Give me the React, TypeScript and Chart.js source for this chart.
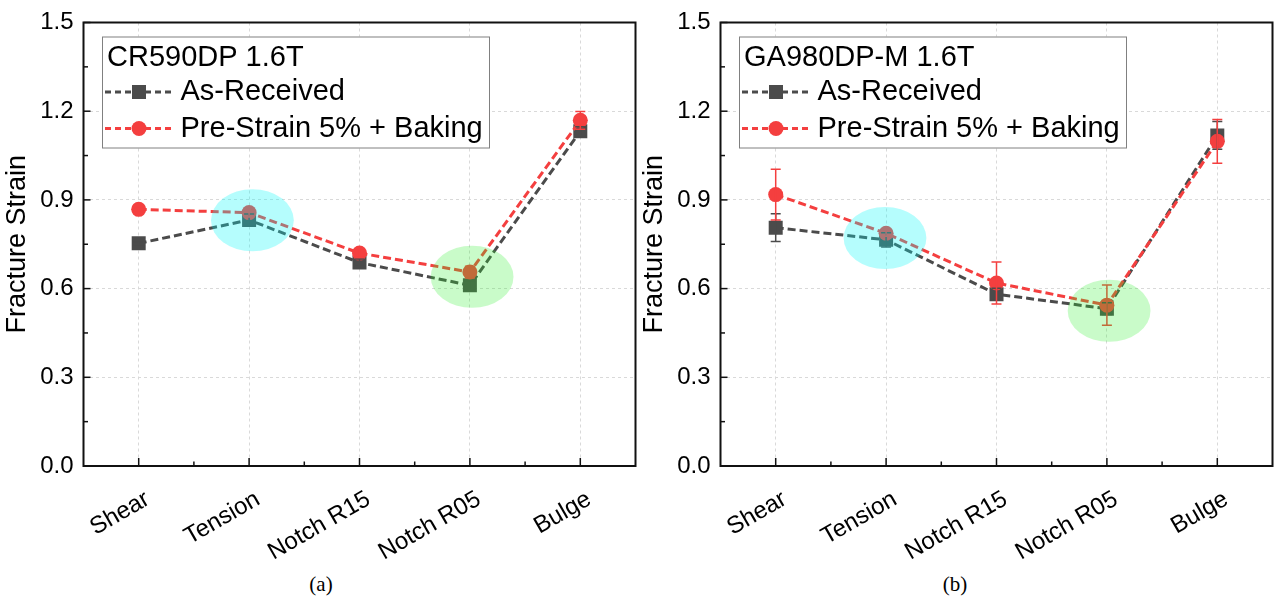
import React, { useEffect, useRef } from 'react';
import { Chart, registerables } from 'chart.js';

Chart.register(...registerables);

// ---------- data ----------
const categories = ['Shear', 'Tension', 'Notch R15', 'Notch R05', 'Bulge'];
const yTicks = [0, 0.3, 0.6, 0.9, 1.2, 1.5];
const yMinorTicks = [0.15, 0.45, 0.75, 1.05, 1.35];
const seriesNames = ['As-Received', 'Pre-Strain 5% + Baking'];

// (a) CR590DP 1.6T
const crAsReceived = [0.753, 0.832, 0.688, 0.611, 1.132];
const crAsReceivedErr = [0.005, 0.02, 0.012, 0.015, 0.015];
const crPreStrain = [0.868, 0.857, 0.72, 0.656, 1.169];
const crPreStrainErr = [0.005, 0.015, 0.015, 0.02, 0.03];

// (b) GA980DP-M 1.6T
const gaAsReceived = [0.806, 0.765, 0.581, 0.532, 1.118];
const gaAsReceivedErr = [0.047, 0.024, 0.02, 0.02, 0.047];
const gaPreStrain = [0.918, 0.787, 0.619, 0.544, 1.098];
const gaPreStrainErr = [0.086, 0.01, 0.071, 0.068, 0.074];

// highlight ellipses in data units: [category index, value, half-width (categories), half-height (value)]
const crHighlights = [
  [1.03, 0.831, 0.375, 0.105],
  [3.02, 0.64, 0.375, 0.105],
];
const gaHighlights = [
  [0.99, 0.771, 0.375, 0.105],
  [3.02, 0.525, 0.375, 0.105],
];
const highlightColors = ['rgba(0,248,248,0.29)', 'rgba(40,240,40,0.25)'];

// ---------- style ----------
const GRAY = '#4b4b4b';
const RED = '#f43f3f';
const SANS = '"Liberation Sans", Arial, sans-serif';
const W = 637;
const H = 560;

type PanelSpec = {
  title: string;
  asRec: number[];
  asErr: number[];
  pre: number[];
  preErr: number[];
  highlights: number[][];
};

function makePlugin(p: PanelSpec) {
  const errs = [p.asErr, p.preErr];
  const colors = [GRAY, RED];
  const styles = ['rect', 'circle'];
  return {
    id: 'panelDeco',
    afterDatasetsDraw(chart: any) {
      const ctx = chart.ctx;
      const xs = chart.scales.x;
      const ys = chart.scales.y;
      // error bars
      chart.data.datasets.forEach((ds: any, i: number) => {
        const meta = chart.getDatasetMeta(i);
        ctx.save();
        ctx.strokeStyle = colors[i];
        ctx.lineWidth = 1.5;
        ctx.setLineDash([]);
        meta.data.forEach((pt: any, j: number) => {
          const v = ds.data[j];
          const e = errs[i][j];
          const yt = ys.getPixelForValue(v + e);
          const yb = ys.getPixelForValue(v - e);
          ctx.beginPath();
          ctx.moveTo(pt.x, yt);
          ctx.lineTo(pt.x, yb);
          ctx.moveTo(pt.x - 5, yt);
          ctx.lineTo(pt.x + 5, yt);
          ctx.moveTo(pt.x - 5, yb);
          ctx.lineTo(pt.x + 5, yb);
          ctx.stroke();
        });
        ctx.restore();
      });
      // highlight ellipses
      p.highlights.forEach((h, k) => {
        const cx = xs.getPixelForValue(h[0]);
        const cy = ys.getPixelForValue(h[1]);
        const rx = Math.abs(xs.getPixelForValue(h[0] + h[2]) - cx);
        const ry = Math.abs(ys.getPixelForValue(h[1] + h[3]) - cy);
        ctx.save();
        ctx.fillStyle = highlightColors[k];
        ctx.beginPath();
        ctx.ellipse(cx, cy, rx, ry, 0, 0, Math.PI * 2);
        ctx.fill();
        ctx.restore();
      });
    },
    afterDraw(chart: any) {
      const ctx = chart.ctx;
      const a = chart.chartArea;
      const xs = chart.scales.x;
      const ys = chart.scales.y;
      ctx.save();
      ctx.setLineDash([]);
      ctx.strokeStyle = '#111';
      ctx.lineWidth = 1.5;
      // inward ticks x
      categories.forEach((_, i) => {
        const x = xs.getPixelForValue(i);
        ctx.beginPath();
        ctx.moveTo(x, a.bottom);
        ctx.lineTo(x, a.bottom - 8);
        ctx.stroke();
        if (i < categories.length - 1) {
          const xm = xs.getPixelForValue(i + 0.5);
          ctx.beginPath();
          ctx.moveTo(xm, a.bottom);
          ctx.lineTo(xm, a.bottom - 4.5);
          ctx.stroke();
        }
      });
      // inward ticks y
      yTicks.forEach((v) => {
        const y = ys.getPixelForValue(v);
        ctx.beginPath();
        ctx.moveTo(a.left, y);
        ctx.lineTo(a.left + 7, y);
        ctx.stroke();
      });
      yMinorTicks.forEach((v) => {
        const y = ys.getPixelForValue(v);
        ctx.beginPath();
        ctx.moveTo(a.left, y);
        ctx.lineTo(a.left + 4.5, y);
        ctx.stroke();
      });
      // frame
      ctx.lineWidth = 2;
      ctx.strokeRect(a.left, a.top, a.right - a.left, a.bottom - a.top);

      // legend
      const bx = a.left + 18.5;
      const by = a.top + 14;
      const bw = 387;
      const bh = 111;
      ctx.fillStyle = '#fff';
      ctx.fillRect(bx, by, bw, bh);
      ctx.strokeStyle = '#808080';
      ctx.lineWidth = 1;
      ctx.strokeRect(bx + 0.5, by + 0.5, bw, bh);
      ctx.font = `29px ${SANS}`;
      ctx.fillStyle = '#000';
      ctx.textBaseline = 'middle';
      ctx.textAlign = 'left';
      ctx.fillText(p.title, bx + 5, by + 21);
      seriesNames.forEach((name, k) => {
        const y = by + 55.5 + k * 36.5;
        ctx.strokeStyle = colors[k];
        ctx.lineWidth = 3;
        ctx.setLineDash([6, 4]);
        ctx.beginPath();
        ctx.moveTo(bx + 3, y);
        ctx.lineTo(bx + 71, y);
        ctx.stroke();
        ctx.setLineDash([]);
        ctx.fillStyle = colors[k];
        const mx = bx + 37;
        if (styles[k] === 'rect') {
          ctx.fillRect(mx - 7, y - 7, 14, 14);
        } else {
          ctx.beginPath();
          ctx.arc(mx, y, 7.5, 0, Math.PI * 2);
          ctx.fill();
        }
        ctx.fillStyle = '#000';
        ctx.fillText(name, bx + 78.5, y);
      });
      ctx.restore();
    },
  };
}

function buildConfig(p: PanelSpec): any {
  return {
    type: 'line',
    data: {
      labels: categories,
      datasets: [
        {
          label: seriesNames[0],
          data: p.asRec,
          order: 2,
          borderColor: GRAY,
          backgroundColor: GRAY,
          borderWidth: 3,
          borderDash: [8, 4],
          pointStyle: 'rect',
          pointRadius: 9.9,
          pointBorderWidth: 0,
          pointBackgroundColor: GRAY,
          tension: 0,
        },
        {
          label: seriesNames[1],
          data: p.pre,
          order: 1,
          borderColor: RED,
          backgroundColor: RED,
          borderWidth: 3,
          borderDash: [8, 4],
          pointStyle: 'circle',
          pointRadius: 7.5,
          pointBorderWidth: 0,
          pointBackgroundColor: RED,
          tension: 0,
        },
      ],
    },
    options: {
      responsive: false,
      maintainAspectRatio: false,
      animation: false,
      layout: { autoPadding: false, padding: { top: 22.5, right: 1.5, left: 0, bottom: 0 } },
      plugins: { legend: { display: false }, tooltip: { enabled: false } },
      scales: {
        x: {
          type: 'category',
          offset: true,
          grid: { display: true, color: '#d9d9d9', lineWidth: 1, drawTicks: false, offset: false },
          border: { display: false, dash: [3, 3] },
          ticks: {
            autoSkip: false,
            maxRotation: 30,
            minRotation: 30,
            padding: 19,
            labelOffset: 9,
            color: '#000',
            font: { family: SANS, size: 24 },
          },
          afterFit: (s: any) => {
            s.height = H - 466;
            s.paddingLeft = 0;
            s.paddingRight = 0;
          },
        },
        y: {
          type: 'linear',
          min: 0,
          max: 1.5,
          afterBuildTicks: (s: any) => {
            s.ticks = yTicks.map((v) => ({ value: v }));
          },
          grid: { display: true, color: '#d9d9d9', lineWidth: 1, drawTicks: false },
          border: { display: false, dash: [3, 3] },
          ticks: {
            padding: 10,
            color: '#000',
            font: { family: SANS, size: 24 },
            callback: (v: any) => Number(v).toFixed(1),
          },
          title: {
            display: true,
            text: 'Fracture Strain',
            color: '#000',
            font: { family: SANS, size: 27 },
            padding: { top: 1, bottom: 0 },
          },
          afterFit: (s: any) => {
            s.width = 83.5;
            s.paddingTop = 0;
            s.paddingBottom = 0;
          },
        },
      },
    },
    plugins: [makePlugin(p)],
  };
}

function Panel({ spec, left }: { spec: PanelSpec; left: number }) {
  const ref = useRef<HTMLCanvasElement>(null);
  useEffect(() => {
    const chart = new Chart(ref.current as HTMLCanvasElement, buildConfig(spec));
    return () => chart.destroy();
  }, []);
  return (
    <canvas
      ref={ref}
      width={W}
      height={H}
      style={{ position: 'absolute', left, top: 0, width: W, height: H }}
    />
  );
}

const captionStyle: React.CSSProperties = {
  position: 'absolute',
  top: 572,
  width: 200,
  textAlign: 'center',
  fontFamily: '"Liberation Serif", "Times New Roman", serif',
  fontSize: 21,
  color: '#000',
};

export default function App() {
  const a: PanelSpec = {
    title: 'CR590DP 1.6T',
    asRec: crAsReceived,
    asErr: crAsReceivedErr,
    pre: crPreStrain,
    preErr: crPreStrainErr,
    highlights: crHighlights,
  };
  const b: PanelSpec = {
    title: 'GA980DP-M 1.6T',
    asRec: gaAsReceived,
    asErr: gaAsReceivedErr,
    pre: gaPreStrain,
    preErr: gaPreStrainErr,
    highlights: gaHighlights,
  };
  return (
    <div
      style={{
        position: 'fixed',
        left: 0,
        top: 0,
        width: 1274,
        height: 603,
        background: '#fff',
        overflow: 'hidden',
      }}
    >
      <Panel spec={a} left={0} />
      <Panel spec={b} left={637} />
      <div style={{ ...captionStyle, left: 221 }}>(a)</div>
      <div style={{ ...captionStyle, left: 855 }}>(b)</div>
    </div>
  );
}
